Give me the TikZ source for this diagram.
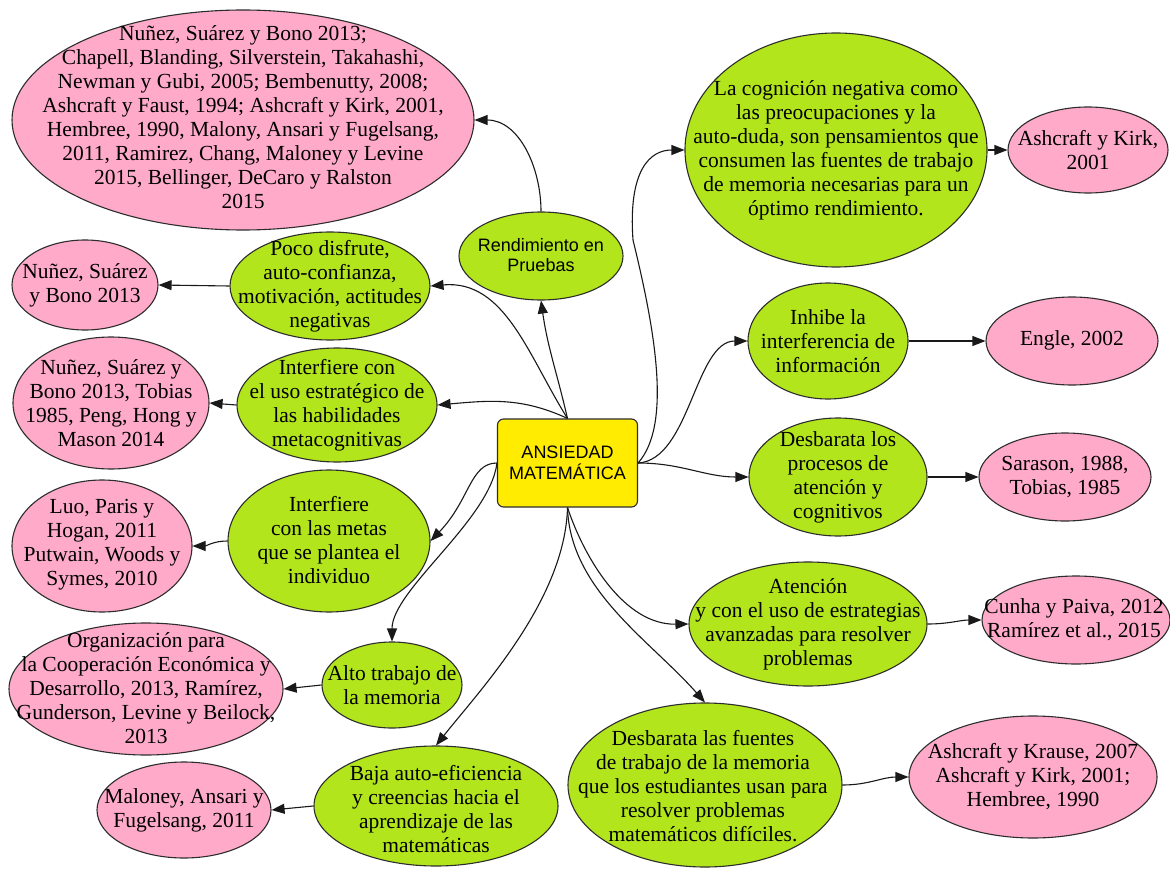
\documentclass[tikz,border=0pt]{standalone}
\usepackage{fontspec}
\setmainfont{Liberation Serif}
\setsansfont{Liberation Sans}
\usetikzlibrary{shapes.geometric,arrows.meta}
\definecolor{leaf}{RGB}{178,229,28}
\definecolor{cite}{RGB}{254,170,200}
\definecolor{core}{RGB}{255,236,0}
\definecolor{rim}{RGB}{45,45,45}
\begin{document}
\begin{tikzpicture}[x=1pt,y=-1pt,
  bubble/.style={ellipse, draw=rim, line width=1.1pt, inner sep=0pt},
  idea/.style={bubble, fill=leaf},
  ref/.style={bubble, fill=cite},
  sz/.style 2 args={minimum width=#1pt, minimum height=#2pt},
  txt/.style={align=center, font=\fontsize{21.5}{24}\selectfont, inner sep=0pt},
  stxt/.style={align=center, font=\sffamily\fontsize{18}{20.5}\selectfont, inner sep=0pt},
  corebox/.style={rectangle, draw=rim, fill=core, rounded corners=6pt, line width=1.1pt,
    minimum width=140pt, minimum height=88pt, align=center,
    font=\sffamily\fontsize{18}{20.5}\selectfont},
  link/.style={draw=black!90, line width=1.1pt, -{Triangle[length=13pt,width=10pt]}},
]
\fill[white] (0,0) rectangle (1170,869);
\useasboundingbox (0,0) rectangle (1170,869);

% central concept
\node[corebox] (ctr) at (567.5,463) {ANSIEDAD\\MATEMÁTICA};

% left and upper branches
\node[ref, sz={462}{220}] (p1) at (243,120) {};
\node[txt] (p1t) at (243,117) {Nuñez, Suárez y Bono 2013;\\Chapell, Blanding, Silverstein, Takahashi,\\Newman y Gubi, 2005; Bembenutty, 2008;\\Ashcraft y Faust, 1994; Ashcraft y Kirk, 2001,\\Hembree, 1990, Malony, Ansari y Fugelsang,\\2011, Ramirez, Chang, Maloney y Levine\\2015, Bellinger, DeCaro y Ralston\\2015};

\node[idea, sz={164}{88}] (rend) at (541,256) {};
\node[stxt] (rendt) at (541,255) {Rendimiento en\\Pruebas};

\node[idea, sz={200}{108}] (poco) at (330,286) {};
\node[txt] (pocot) at (330,286) {Poco disfrute,\\auto-confianza,\\motivación, actitudes\\negativas};
\node[ref, sz={146}{90}] (pA) at (85,285) {};
\node[txt] (pAt) at (85,285) {Nuñez, Suárez\\y Bono 2013};

\node[idea, sz={200}{114}] (uso) at (337,405) {};
\node[txt] (usot) at (337,405) {Interfiere con\\el uso estratégico de\\las habilidades\\metacognitivas};
\node[ref, sz={196}{132}] (pB) at (111,403) {};
\node[txt] (pBt) at (111,403) {Nuñez, Suárez y\\Bono 2013, Tobias\\1985, Peng, Hong y\\Mason 2014};

\node[idea, sz={202}{142}] (metas) at (329,541) {};
\node[txt] (metast) at (329,540) {Interfiere\\con las metas\\que se plantea el\\individuo};
\node[ref, sz={180}{132}] (pC) at (102,546) {};
\node[txt] (pCt) at (102,545) {Luo, Paris y\\Hogan, 2011\\Putwain, Woods y\\Symes, 2010};

\node[idea, sz={140}{86}] (alto) at (392,685) {};
\node[txt] (altot) at (392,685) {Alto trabajo de\\la memoria};
\node[ref, sz={274}{132}] (pD) at (146,689) {};
\node[txt] (pDt) at (146,688) {Organización para\\la Cooperación Económica y\\Desarrollo, 2013, Ramírez,\\Gunderson, Levine y Beilock,\\2013};

\node[idea, sz={244}{120}] (baja) at (436,806) {};
\node[txt] (bajat) at (436,809) {Baja auto-eficiencia\\y creencias hacia el\\aprendizaje de las\\matemáticas};
\node[ref, sz={174}{96}] (pE) at (184,810) {};
\node[txt] (pEt) at (184,810) {Maloney, Ansari y\\Fugelsang, 2011};

% right branches
\node[idea, sz={302}{234}] (cog) at (836,150) {};
\node[txt] (cogt) at (836,150) {La cognición negativa como\\las preocupaciones y la\\auto-duda, son pensamientos que\\consumen las fuentes de trabajo\\de memoria necesarias para un\\óptimo rendimiento.};
\node[ref, sz={160}{86}] (ak) at (1088,150) {};
\node[txt] (akt) at (1088,150) {Ashcraft y Kirk,\\2001};

\node[idea, sz={160}{116}] (inhibe) at (828,341) {};
\node[txt] (inhibet) at (828,341) {Inhibe la\\interferencia de\\información};
\node[ref, sz={172}{88}] (engle) at (1072,341) {};
\node[txt] (englet) at (1072,340) {Engle, 2002};

\node[idea, sz={178}{118}] (desbp) at (838,477) {};
\node[txt] (desbpt) at (838,477) {Desbarata los\\procesos de\\atención y\\cognitivos};
\node[ref, sz={172}{88}] (sar) at (1065,477) {};
\node[txt] (sart) at (1065,477) {Sarason, 1988,\\Tobias, 1985};

\node[idea, sz={238}{124}] (aten) at (808,624) {};
\node[txt] (atent) at (808,624) {Atención\\y con el uso de estrategias\\avanzadas para resolver\\problemas};
\node[ref, sz={188}{88}] (cunha) at (1076,620) {};
\node[txt] (cunhat) at (1074,620) {Cunha y Paiva, 2012\\Ramírez et al., 2015};

\node[idea, sz={274}{164}] (desbf) at (705,785) {};
\node[txt] (desbft) at (703,786) {Desbarata las fuentes\\de trabajo de la memoria\\que los estudiantes usan para\\resolver problemas\\matemáticos difíciles.};
\node[ref, sz={248}{122}] (krause) at (1033,777) {};
\node[txt] (krauset) at (1033,777) {Ashcraft y Krause, 2007\\Ashcraft y Kirk, 2001;\\Hembree, 1990};

% connectors from the central concept
\draw[link] (ctr.north) to[out=103,in=-82] (rend.south);
\draw[link] (ctr.north) to[out=122,in=5] (poco.east);
\draw[link] (ctr.north) to[out=155,in=5] (uso.east);
\draw[link] (rend.north) to[out=90,in=0] (p1.east);
\draw[link] (ctr.west) .. controls (470,463) and (470,500) .. (metas.east);
\draw[link] (ctr.west) .. controls (490,520) and (392,590) .. (alto.north);
\draw[link] (ctr.south) .. controls (565,600) and (480,690) .. (baja.north);
\draw[link] (ctr.south) .. controls (570,590) and (650,640) .. (desbf.north);
\draw[link] (ctr.south) .. controls (585,560) and (625,625) .. (aten.west);
\draw[link] (ctr.east) to[out=0,in=180] (desbp.west);
\draw[link] (ctr.east) .. controls (690,460) and (695,341) .. (inhibe.west);
\draw[link] (ctr.east) .. controls (672,425) and (655,330) .. (633,240)
  .. controls (628,170) and (650,150) .. (cog.west);

% connectors to the references
\draw[link] (poco.west) -- (pA.east);
\draw[link] (uso.west) -- (pB.east);
\draw[link] (metas.west) to[out=180,in=0] (pC.east);
\draw[link] (alto.west) -- (pD.east);
\draw[link] (baja.west) -- (pE.east);
\draw[link] (cog.east) -- (ak.west);
\draw[link] (inhibe.east) -- (engle.west);
\draw[link] (desbp.east) -- (sar.west);
\draw[link] (aten.east) to[out=0,in=180] (cunha.west);
\draw[link] (desbf.east) to[out=0,in=180] (krause.west);
\end{tikzpicture}
\end{document}
